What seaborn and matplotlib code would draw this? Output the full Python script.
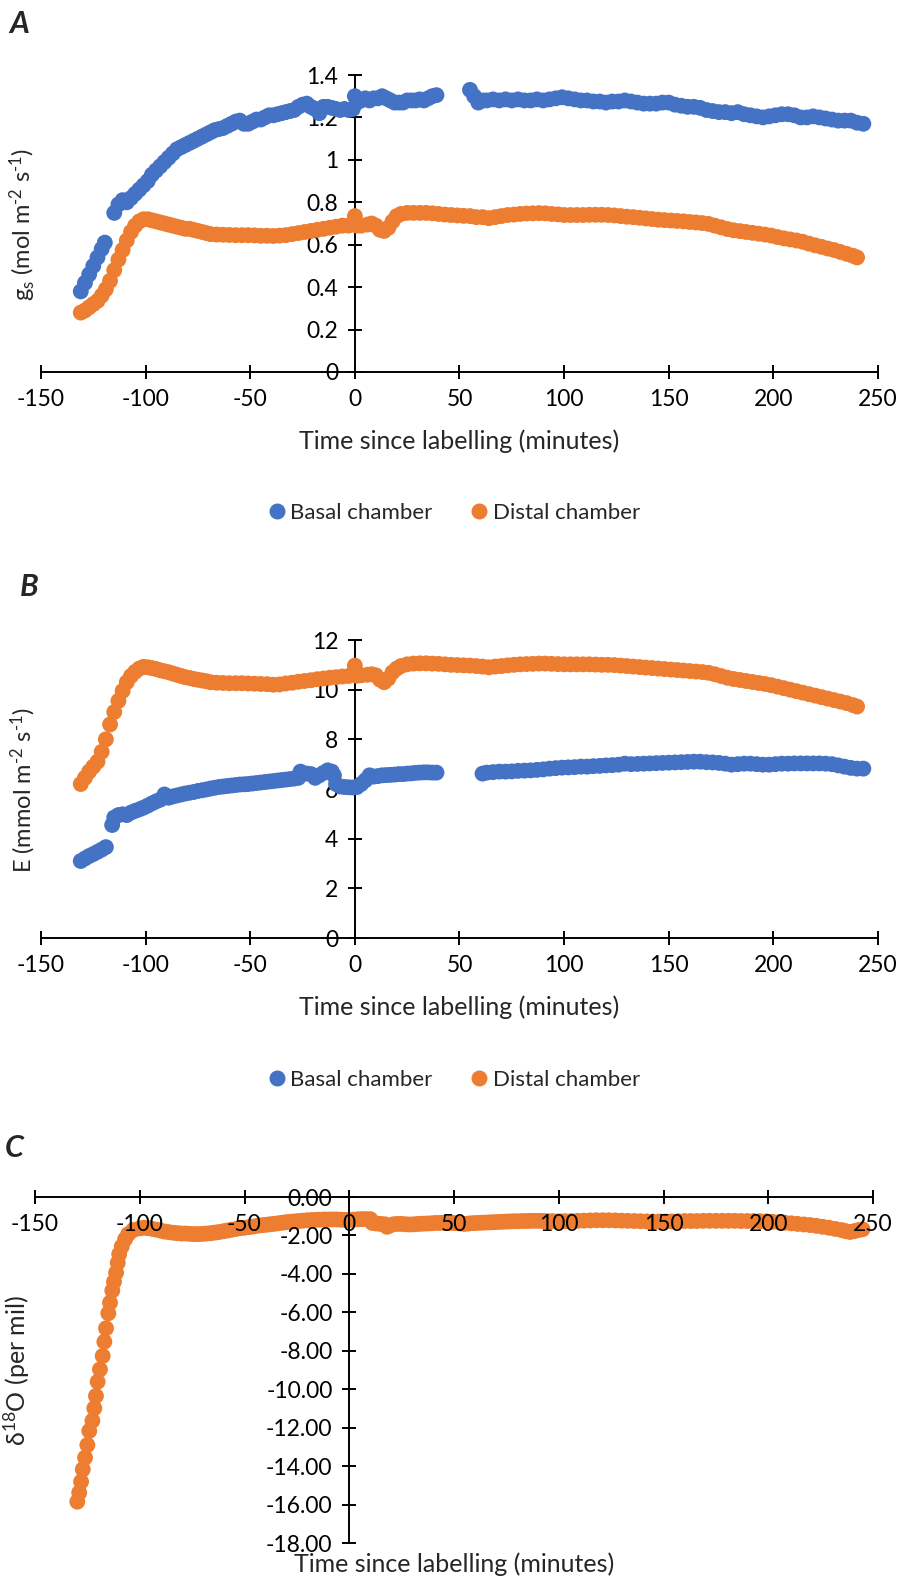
import numpy as np
import pandas as pd
import matplotlib
matplotlib.use("Agg")
import matplotlib.pyplot as plt
import seaborn as sns
from matplotlib.ticker import FuncFormatter
from matplotlib.lines import Line2D

# ---------------- data ----------------
# Panel A: stomatal conductance gs (mol m-2 s-1)
a_basal_t = [-131, -129, -127, -125, -123, -121, -119.5,
             -115, -113, -111, -109, -107, -105, -103, -101, -99, -97, -95, -93, -91, -89, -87, -85,
             -83, -81, -79, -77, -75, -73, -71, -69, -67, -65, -63, -61, -59, -57, -55, -53, -51, -49,
             -47, -45, -43, -41, -39, -37, -35, -33, -31, -29, -27, -25, -23, -21, -19, -17, -15, -13,
             -11, -9, -7, -5, -3, -1, 0, 1, 3, 5, 7, 9, 11, 13, 15, 17, 19, 21, 23, 25, 27, 29, 31, 33,
             35, 37, 39,
             55, 57, 59, 61, 63, 66, 69, 72, 75, 78, 81, 84, 87, 90, 93, 96, 99, 102, 105, 108, 111,
             114, 117, 120, 123, 126, 129, 132, 135, 138, 141, 144, 147, 150, 153, 156, 159, 162, 165,
             168, 171, 174, 177, 180, 183, 186, 189, 192, 195, 198, 201, 204, 207, 210, 213, 216, 219,
             222, 225, 228, 231, 234, 237, 240, 243]
a_basal_v = [0.38, 0.42, 0.46, 0.50, 0.54, 0.58, 0.61,
             0.75, 0.79, 0.81, 0.80, 0.82, 0.84, 0.86, 0.88, 0.90, 0.93, 0.95, 0.97, 0.99, 1.01, 1.03, 1.05,
             1.06, 1.07, 1.08, 1.09, 1.10, 1.11, 1.12, 1.13, 1.14, 1.145, 1.15, 1.16, 1.17, 1.18, 1.185, 1.17, 1.17, 1.18,
             1.19, 1.19, 1.20, 1.21, 1.21, 1.215, 1.22, 1.225, 1.23, 1.235, 1.25, 1.26, 1.265, 1.25, 1.24, 1.22, 1.25, 1.25,
             1.245, 1.24, 1.235, 1.24, 1.235, 1.24, 1.30, 1.27, 1.28, 1.29, 1.28, 1.29, 1.29, 1.30, 1.29, 1.28, 1.27, 1.27, 1.27, 1.28, 1.28, 1.28, 1.285, 1.28,
             1.29, 1.30, 1.305,
             1.33, 1.30, 1.27, 1.28, 1.28, 1.285, 1.28, 1.285, 1.28, 1.285, 1.28, 1.28, 1.285, 1.28, 1.285, 1.29, 1.295, 1.29, 1.285, 1.28, 1.28,
             1.275, 1.275, 1.27, 1.275, 1.275, 1.28, 1.275, 1.27, 1.265, 1.265, 1.265, 1.27, 1.27, 1.26, 1.255, 1.25, 1.25, 1.245,
             1.235, 1.23, 1.225, 1.225, 1.22, 1.225, 1.215, 1.21, 1.205, 1.20, 1.205, 1.21, 1.215, 1.215, 1.21, 1.20, 1.20, 1.205,
             1.20, 1.195, 1.19, 1.185, 1.185, 1.185, 1.175, 1.17]

a_distal_t = [-131, -129, -127, -125, -123, -121, -119, -117, -115, -113, -111, -109, -107, -105, -103, -101,
              -99, -97, -95, -93, -91, -89, -87, -85, -83, -81, -79, -77, -75, -73, -71, -69, -66, -63, -60,
              -57, -54, -51, -48, -45, -42, -39, -36, -33, -30, -27, -24, -21, -18, -15, -12, -9, -6, -3,
              0, 1, 3, 6, 8, 10, 12, 14, 16, 18, 20, 22, 25, 28, 31, 34, 37, 40, 43, 46, 49, 52, 55, 58,
              61, 64, 67, 70, 73, 76, 79, 82, 85, 88, 91, 94, 97, 100, 103, 106, 109, 112, 115, 118, 121,
              124, 127, 130, 133, 136, 139, 142, 145, 148, 151, 154, 157, 160, 163, 166, 169, 172, 175,
              178, 181, 184, 187, 190, 193, 196, 199, 202, 205, 208, 211, 214, 217, 220, 223, 226, 229,
              232, 235, 238, 240]
a_distal_v = [0.28, 0.29, 0.305, 0.32, 0.335, 0.36, 0.39, 0.43, 0.48, 0.53, 0.575, 0.62, 0.66, 0.69, 0.71, 0.72,
              0.72, 0.715, 0.71, 0.705, 0.70, 0.695, 0.69, 0.685, 0.68, 0.675, 0.675, 0.67, 0.665, 0.66, 0.655, 0.65, 0.648, 0.647, 0.646,
              0.645, 0.645, 0.645, 0.644, 0.642, 0.642, 0.641, 0.643, 0.645, 0.65, 0.655, 0.66, 0.665, 0.67, 0.675, 0.68, 0.685, 0.69, 0.69,
              0.735, 0.69, 0.69, 0.695, 0.70, 0.69, 0.67, 0.665, 0.68, 0.71, 0.735, 0.745, 0.75, 0.75, 0.75, 0.75, 0.748, 0.745, 0.742, 0.74, 0.738, 0.736, 0.735, 0.73,
              0.73, 0.725, 0.73, 0.735, 0.74, 0.742, 0.745, 0.747, 0.748, 0.749, 0.748, 0.745, 0.743, 0.74, 0.74, 0.74, 0.74, 0.741, 0.741, 0.741, 0.74,
              0.738, 0.735, 0.732, 0.73, 0.727, 0.724, 0.721, 0.718, 0.716, 0.714, 0.712, 0.71, 0.707, 0.705, 0.702, 0.698, 0.69, 0.682,
              0.674, 0.668, 0.664, 0.66, 0.656, 0.652, 0.648, 0.643, 0.636, 0.63, 0.625, 0.62, 0.614, 0.605, 0.597, 0.59, 0.582, 0.575,
              0.566, 0.557, 0.548, 0.54]

# Panel B: transpiration E (mmol m-2 s-1)
b_basal_t = [-131, -129, -127, -125, -123, -121, -119,
             -116, -115, -113, -111, -109, -107, -105, -103, -101, -99, -97, -95, -93, -91, -89, -87, -85,
             -83, -81, -79, -77, -75, -73, -71, -69, -67, -65, -63, -61, -59, -57, -55, -53, -51, -49, -47,
             -45, -43, -41, -39, -37, -35, -33, -31, -29, -27, -26, -25, -23, -21, -19, -17, -15, -13, -11,
             -10, -9, -7, -5, -3, -1, 1, 3, 5, 7, 9, 11, 13, 15, 17, 19, 21, 23, 25, 27, 29, 31, 33, 35,
             37, 39,
             61, 63, 66, 69, 72, 75, 78, 81, 84, 87, 90, 93, 96, 99, 102, 105, 108, 111, 114, 117, 120,
             123, 126, 129, 132, 135, 138, 141, 144, 147, 150, 153, 156, 159, 162, 165, 168, 171, 174, 177,
             180, 183, 186, 189, 192, 195, 198, 201, 204, 207, 210, 213, 216, 219, 222, 225, 228, 231, 234,
             237, 240, 243]
b_basal_v = [3.10, 3.20, 3.30, 3.38, 3.47, 3.56, 3.66,
             4.55, 4.85, 4.95, 4.98, 4.95, 5.05, 5.12, 5.18, 5.25, 5.33, 5.42, 5.50, 5.57, 5.78, 5.65, 5.70, 5.74,
             5.78, 5.82, 5.85, 5.88, 5.92, 5.95, 5.98, 6.02, 6.05, 6.08, 6.10, 6.12, 6.14, 6.16, 6.18, 6.19, 6.20, 6.22, 6.24,
             6.26, 6.28, 6.30, 6.32, 6.34, 6.36, 6.38, 6.40, 6.42, 6.45, 6.70, 6.62, 6.62, 6.60, 6.45, 6.55, 6.65, 6.75, 6.70,
             6.55, 6.20, 6.10, 6.08, 6.07, 6.06, 6.08, 6.20, 6.35, 6.55, 6.50, 6.52, 6.55, 6.56, 6.57, 6.58, 6.60, 6.60, 6.62, 6.63, 6.65, 6.66, 6.67, 6.67,
             6.66, 6.66,
             6.62, 6.66, 6.68, 6.70, 6.70, 6.71, 6.73, 6.74, 6.75, 6.77, 6.79, 6.82, 6.84, 6.86, 6.87, 6.88, 6.90, 6.90, 6.92, 6.93, 6.95,
             6.96, 6.98, 7.02, 7.00, 7.01, 7.02, 7.03, 7.04, 7.05, 7.06, 7.07, 7.08, 7.09, 7.10, 7.10, 7.08, 7.07, 7.05, 7.02,
             6.98, 7.00, 7.02, 7.02, 7.00, 6.98, 6.98, 7.00, 7.02, 7.02, 7.03, 7.03, 7.03, 7.03, 7.03, 7.02, 7.00, 6.95, 6.90,
             6.85, 6.82, 6.82]

b_distal_t = a_distal_t
b_distal_v = [6.20, 6.45, 6.70, 6.90, 7.10, 7.50, 8.00, 8.60, 9.10, 9.55, 9.95, 10.30, 10.55, 10.72, 10.85, 10.92,
              10.90, 10.87, 10.83, 10.78, 10.74, 10.70, 10.65, 10.60, 10.55, 10.50, 10.47, 10.43, 10.40, 10.37, 10.34, 10.30, 10.28, 10.27, 10.26,
              10.26, 10.26, 10.25, 10.24, 10.23, 10.22, 10.20, 10.21, 10.25, 10.28, 10.32, 10.35, 10.38, 10.42, 10.45, 10.48, 10.50, 10.53, 10.55,
              10.97, 10.56, 10.58, 10.60, 10.62, 10.58, 10.40, 10.30, 10.45, 10.70, 10.85, 10.95, 11.02, 11.05, 11.06, 11.06, 11.05, 11.04, 11.02, 11.00, 10.99, 10.98, 10.97, 10.95,
              10.93, 10.90, 10.93, 10.95, 10.98, 11.00, 11.02, 11.03, 11.04, 11.05, 11.05, 11.04, 11.03, 11.02, 11.02, 11.02, 11.02, 11.02, 11.01, 11.00, 11.00,
              10.99, 10.97, 10.95, 10.93, 10.91, 10.89, 10.87, 10.85, 10.83, 10.81, 10.79, 10.77, 10.75, 10.73, 10.71, 10.68, 10.62, 10.55,
              10.48, 10.43, 10.39, 10.35, 10.31, 10.27, 10.23, 10.18, 10.12, 10.06, 10.00, 9.94, 9.88, 9.82, 9.76, 9.70, 9.64, 9.58,
              9.52, 9.46, 9.38, 9.32]

# Panel C: delta18O (per mil), distal chamber
c_t = [-129.8, -128.9, -128.0, -127.2, -126.1, -125.0, -124.1, -122.6, -121.7, -120.9, -120.1, -119.0,
       -117.7, -116.9, -116.1, -115.0, -114.2, -113.1, -112.3, -111.3, -110.5, -109.8, -108.6, -107.0,
       -105.5, -103.1, -100.0,
       -98, -96, -94, -92, -90, -88, -86, -84, -82, -80, -78, -76, -74, -72, -70, -68, -66, -64, -62,
       -60, -58, -56, -54, -52, -50, -48, -46, -44, -42, -40, -38, -36, -34, -32, -30, -28, -26, -24,
       -22, -20, -18, -16, -14, -12, -10, -8, -6, -4, -2, 0, 2, 4, 6, 8, 10,
       11, 13, 15, 17,
       18, 19, 21, 23, 25, 27, 29, 31, 33, 35, 37, 39, 41, 43, 45, 47, 49, 51, 53, 55, 57, 59, 61, 63,
       65, 67, 69, 71, 73, 75, 77, 79, 81, 83, 85, 87, 89, 91, 93, 95, 97, 99, 101, 103, 106, 109, 112,
       115, 118, 121, 124, 127, 130, 133, 136, 139, 142, 145, 148, 151, 154, 157, 160, 163, 166, 169,
       172, 175, 178, 181, 184, 187, 190, 193, 196, 199, 202, 205, 208, 211, 214, 217, 220, 223, 226,
       229, 232, 235, 237, 239, 241, 243, 245]
c_v = [-15.85, -15.38, -14.81, -14.17, -13.56, -12.90, -12.17, -11.64, -10.99, -10.35, -9.61, -8.97,
       -8.27, -7.53, -6.83, -6.05, -5.50, -4.87, -4.41, -3.94, -3.42, -2.97, -2.58, -2.20,
       -1.93, -1.72, -1.63,
       -1.60, -1.62, -1.66, -1.70, -1.75, -1.80, -1.83, -1.86, -1.88, -1.90, -1.90, -1.92, -1.93, -1.93, -1.92, -1.90, -1.88, -1.85, -1.82,
       -1.78, -1.74, -1.70, -1.66, -1.62, -1.60, -1.57, -1.54, -1.50, -1.47, -1.45, -1.42, -1.40, -1.37, -1.34, -1.31, -1.29, -1.27, -1.25,
       -1.23, -1.21, -1.20, -1.19, -1.18, -1.17, -1.17, -1.17, -1.17, -1.18, -1.19, -1.20, -1.18, -1.16, -1.15, -1.15, -1.15,
       -1.35, -1.38, -1.40, -1.42,
       -1.55, -1.50, -1.42, -1.40, -1.40, -1.42, -1.43, -1.42, -1.40, -1.39, -1.38, -1.37, -1.35, -1.35, -1.34, -1.34, -1.35, -1.36, -1.38, -1.40, -1.38, -1.36, -1.35, -1.34,
       -1.33, -1.32, -1.31, -1.30, -1.29, -1.28, -1.27, -1.26, -1.26, -1.25, -1.25, -1.24, -1.24, -1.24, -1.25, -1.26, -1.26, -1.27, -1.27, -1.26, -1.25, -1.24, -1.23,
       -1.22, -1.21, -1.21, -1.21, -1.22, -1.23, -1.24, -1.25, -1.26, -1.27, -1.28, -1.28, -1.28, -1.27, -1.26, -1.25, -1.25, -1.25, -1.24,
       -1.24, -1.24, -1.24, -1.24, -1.24, -1.25, -1.25, -1.25, -1.26, -1.27, -1.29, -1.31, -1.34, -1.37, -1.40, -1.43, -1.46, -1.50, -1.55,
       -1.60, -1.66, -1.72, -1.78, -1.82, -1.78, -1.72, -1.68]

x_ticks = [-150, -100, -50, 0, 50, 100, 150, 200, 250]
a_yticks = [0, 0.2, 0.4, 0.6, 0.8, 1.0, 1.2, 1.4]
b_yticks = [0, 2, 4, 6, 8, 10, 12]
c_yticks = [0, -2, -4, -6, -8, -10, -12, -14, -16, -18]

series_names = ["Basal chamber", "Distal chamber"]
x_title = "Time since labelling (minutes)"
BLUE = "#4472C4"
ORANGE = "#ED7D31"

# ---------------- style ----------------
sns.set_theme(style="white")
plt.rcParams["font.family"] = ["Lato", "DejaVu Sans"]
plt.rcParams["axes.unicode_minus"] = False
plt.rcParams["mathtext.fontset"] = "custom"
plt.rcParams["mathtext.rm"] = "Lato"
plt.rcParams["mathtext.it"] = "Lato:italic"
plt.rcParams["mathtext.default"] = "regular"

W, H = 901, 1580
fig = plt.figure(figsize=(W / 100, H / 100), dpi=100)


def add_ax(l, t, r, b):
    return fig.add_axes([l / W, 1 - b / H, (r - l) / W, (b - t) / H])


TICK_FS = 16.5
XT_FS = 18
YT_FS = 17
LEG_FS = 16
MS = 130


def style_axes(ax, xlim, ylim, yticks, yfmt, data_on_top=True):
    ax.set_axisbelow(data_on_top)
    ax.set_xlim(*xlim)
    ax.set_ylim(*ylim)
    ax.set_xticks(x_ticks)
    ax.set_yticks(yticks)
    ax.yaxis.set_major_formatter(FuncFormatter(yfmt))
    ax.xaxis.set_major_formatter(FuncFormatter(lambda v, p: f"{v:g}"))
    for s in ["top", "right"]:
        ax.spines[s].set_visible(False)
    ax.spines["left"].set_position(("data", 0))
    ax.spines["bottom"].set_position(("data", 0))
    for s in ["left", "bottom"]:
        ax.spines[s].set_color("black")
        ax.spines[s].set_linewidth(1.4)
    ax.tick_params(axis="both", direction="inout", length=10, width=1.4, colors="black",
                   labelsize=TICK_FS, pad=7, left=True, bottom=True)
    ax.set_facecolor("none")
    ax.grid(False)


def scat(ax, t, v, color, z):
    df = pd.DataFrame({"t": t, "v": v})
    sns.scatterplot(data=df, x="t", y="v", ax=ax, color=color, s=MS, edgecolor="none",
                    linewidth=0, zorder=z, legend=False, clip_on=False)


def ftext(x, y, s, **kw):
    fig.text(x / W, 1 - y / H, s, ha="center", va="center", **kw)


# Panel A
axA = add_ax(41, 75, 878, 372)
scat(axA, a_basal_t, a_basal_v, BLUE, 3)
scat(axA, a_distal_t, a_distal_v, ORANGE, 3)
style_axes(axA, (-150, 250), (0, 1.4), a_yticks, lambda v, p: f"{v:g}")
axA.set_xlabel("")
axA.set_ylabel("")
ftext(459, 441, x_title, fontsize=XT_FS)
ftext(23, 224, r"g$_{s}$ (mol m$^{\text{-}2}$ s$^{\text{-}1}$)", fontsize=YT_FS, rotation=90)

# Panel B
axB = add_ax(41, 640, 878, 938)
scat(axB, b_basal_t, b_basal_v, BLUE, 3)
scat(axB, b_distal_t, b_distal_v, ORANGE, 3)
style_axes(axB, (-150, 250), (0, 12), b_yticks, lambda v, p: f"{v:g}")
axB.set_xlabel("")
axB.set_ylabel("")
ftext(459, 1007, x_title, fontsize=XT_FS)
ftext(23, 790, r"E (mmol m$^{\text{-}2}$ s$^{\text{-}1}$)", fontsize=YT_FS, rotation=90)

# Panel C (axis and labels drawn over the data)
axC = add_ax(35, 1197, 873, 1543)
scat(axC, c_t, c_v, ORANGE, 1)
style_axes(axC, (-150, 250), (-18, 0), c_yticks, lambda v, p: f"{v + 0.0:.2f}", data_on_top=False)
axC.set_xlabel("")
axC.set_ylabel("")
ftext(454, 1564, x_title, fontsize=XT_FS)
ftext(17, 1371, r"δ$^{18}$O (per mil)", fontsize=18, rotation=90)

# Legends
handles = [Line2D([], [], marker="o", linestyle="", color=BLUE, markersize=10.5),
           Line2D([], [], marker="o", linestyle="", color=ORANGE, markersize=10.5)]
for yc in (513, 1080):
    fig.legend(handles, series_names, loc="center", bbox_to_anchor=(453 / W, 1 - yc / H),
               ncol=2, frameon=False, fontsize=LEG_FS, handletextpad=0.1,
               columnspacing=1.6, handlelength=1.0)

# Panel letters
for letter, xp, yp in (("A", 9, 24), ("B", 20, 587), ("C", 5, 1148)):
    fig.text(xp / W, 1 - yp / H, letter, fontsize=22, fontweight="bold", fontstyle="italic",
             ha="left", va="center")

fig.savefig("out.png", dpi=100)
